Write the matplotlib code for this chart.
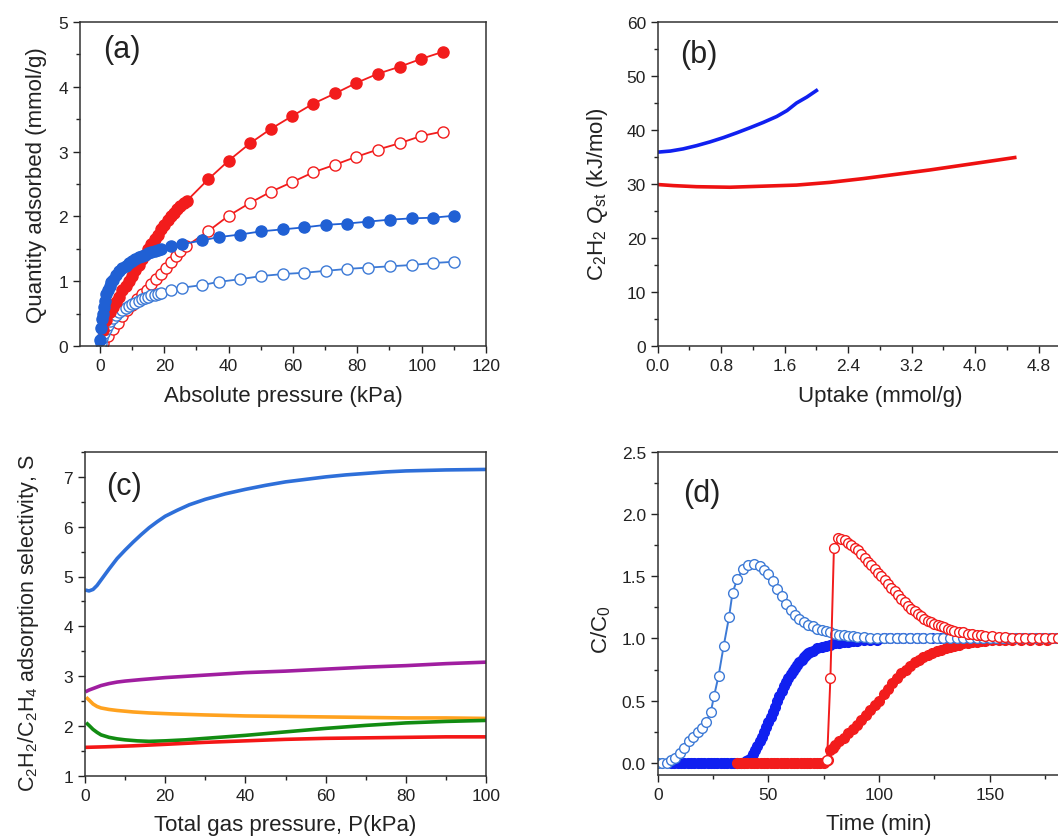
import numpy as np
import matplotlib
matplotlib.use("Agg")
import matplotlib.pyplot as plt
from matplotlib.ticker import MultipleLocator, FixedLocator

plt.rcParams['font.family'] = ['Liberation Sans', 'DejaVu Sans']
plt.rcParams['mathtext.fontset'] = 'custom'
plt.rcParams['mathtext.rm'] = 'Liberation Sans'
plt.rcParams['mathtext.it'] = 'Liberation Sans:italic'

# ---- (a) isotherms ----
a_red_fill_x = [1, 2, 3, 4, 5, 6, 7, 8, 9, 10, 11, 12, 13, 14, 15, 16, 17, 18, 19, 20,
                21, 22, 23, 24, 25, 26, 27, 33.6, 40, 46.7, 53.1, 59.8, 66.3, 73.2,
                79.7, 86.3, 93.2, 99.8, 106.6]
a_red_fill_y = [0.25, 0.40, 0.52, 0.60, 0.68, 0.76, 0.86, 0.93, 1.00, 1.08, 1.17, 1.25,
                1.34, 1.41, 1.49, 1.57, 1.65, 1.72, 1.80, 1.87, 1.94, 2.01, 2.06, 2.11,
                2.16, 2.21, 2.24, 2.57, 2.86, 3.13, 3.35, 3.55, 3.74, 3.90, 4.06, 4.20,
                4.31, 4.43, 4.54]
a_red_open_x = [1, 2.5, 4, 5.5, 7, 8.5, 10, 11.5, 13, 14.5, 16, 17.5, 19, 20.5, 22,
                23.5, 25, 26.8, 33.6, 40, 46.7, 53.1, 59.8, 66.3, 73.2, 79.7, 86.3,
                93.2, 99.8, 106.6]
a_red_open_y = [0.04, 0.15, 0.26, 0.36, 0.47, 0.55, 0.64, 0.72, 0.80, 0.87, 0.95,
                1.03, 1.11, 1.21, 1.30, 1.39, 1.47, 1.54, 1.77, 2.01, 2.21, 2.38, 2.53,
                2.68, 2.80, 2.92, 3.03, 3.13, 3.24, 3.31]
a_blue_fill_x = [0.1, 0.3, 0.5, 0.8, 1.2, 1.6, 2.0, 2.5, 3, 3.5, 4, 5, 6, 7, 8, 9, 10,
                 11, 12, 13, 14, 15, 16, 17, 18, 19, 22.2, 25.5, 31.8, 36.9, 43.5,
                 50.2, 56.8, 63.4, 70.3, 76.9, 83.4, 90.2, 97, 103.5, 110]
a_blue_fill_y = [0.10, 0.28, 0.42, 0.50, 0.60, 0.70, 0.80, 0.87, 0.93, 0.98, 1.02,
                 1.10, 1.15, 1.20, 1.24, 1.28, 1.31, 1.34, 1.37, 1.39, 1.41, 1.43,
                 1.45, 1.47, 1.48, 1.50, 1.54, 1.57, 1.63, 1.68, 1.72, 1.77, 1.80,
                 1.83, 1.87, 1.89, 1.92, 1.95, 1.97, 1.98, 2.01]
a_blue_open_x = [0.3, 0.7, 1.2, 1.8, 2.5, 3.2, 4, 5, 6, 7, 8, 9, 10, 11, 12, 13, 14,
                 15, 16, 17, 18, 19, 22.2, 25.5, 31.8, 36.9, 43.5, 50.2, 56.8, 63.4,
                 70.3, 76.9, 83.4, 90.2, 97, 103.5, 110]
a_blue_open_y = [0.05, 0.12, 0.20, 0.27, 0.33, 0.38, 0.43, 0.48, 0.52, 0.56, 0.59,
                 0.62, 0.65, 0.67, 0.70, 0.72, 0.74, 0.76, 0.78, 0.79, 0.81, 0.82,
                 0.87, 0.90, 0.94, 0.99, 1.03, 1.08, 1.11, 1.13, 1.16, 1.19, 1.21,
                 1.23, 1.25, 1.28, 1.30]

# ---- (b) Qst ----
b_blue_x = [0.0, 0.16, 0.32, 0.49, 0.66, 0.83, 1.0, 1.16, 1.33, 1.50, 1.63, 1.75, 1.88, 2.0]
b_blue_y = [35.9, 36.1, 36.5, 37.1, 37.8, 38.6, 39.5, 40.4, 41.4, 42.5, 43.6, 45.0, 46.1, 47.3]
b_red_x = [0.0, 0.2, 0.49, 0.91, 1.33, 1.75, 2.17, 2.59, 3.01, 3.43, 3.85, 4.27, 4.5]
b_red_y = [29.9, 29.7, 29.5, 29.4, 29.6, 29.8, 30.3, 31.0, 31.8, 32.6, 33.5, 34.4, 34.9]

# ---- (c) selectivity ----
c_blue_x = [0.5, 1, 2, 3, 4, 5, 6, 8, 10, 12, 14, 16, 18, 20, 23, 26, 30, 35, 40, 45,
            50, 55, 60, 65, 70, 75, 80, 90, 100]
c_blue_y = [4.72, 4.71, 4.74, 4.82, 4.93, 5.04, 5.15, 5.36, 5.53, 5.69, 5.84, 5.98,
            6.10, 6.21, 6.33, 6.44, 6.55, 6.66, 6.75, 6.83, 6.90, 6.95, 7.00, 7.04,
            7.07, 7.10, 7.12, 7.14, 7.15]
c_purple_x = [0.5, 1, 2, 4, 6, 8, 10, 14, 20, 30, 40, 50, 60, 70, 80, 90, 100]
c_purple_y = [2.70, 2.72, 2.75, 2.81, 2.85, 2.88, 2.90, 2.93, 2.97, 3.02, 3.07, 3.10,
              3.14, 3.18, 3.21, 3.25, 3.28]
c_orange_x = [0.6, 1, 2, 3, 4, 6, 8, 12, 16, 22, 30, 40, 50, 60, 70, 80, 90, 100]
c_orange_y = [2.55, 2.52, 2.44, 2.39, 2.36, 2.33, 2.31, 2.28, 2.26, 2.24, 2.22, 2.20,
              2.19, 2.18, 2.17, 2.16, 2.16, 2.15]
c_green_x = [0.6, 1, 2, 3, 4, 6, 8, 10, 13, 16, 20, 25, 30, 40, 50, 60, 70, 80, 90, 100]
c_green_y = [2.04, 2.01, 1.93, 1.87, 1.82, 1.77, 1.74, 1.72, 1.70, 1.69, 1.70, 1.72,
             1.75, 1.81, 1.88, 1.95, 2.01, 2.06, 2.09, 2.11]
c_red_x = [0.5, 5, 12, 20, 30, 40, 50, 60, 70, 80, 90, 100]
c_red_y = [1.57, 1.58, 1.60, 1.63, 1.67, 1.70, 1.73, 1.75, 1.76, 1.77, 1.78, 1.78]

# ---- (d) breakthrough ----
d_bo_t = [0, 2, 4, 6, 8, 10, 12, 14, 16, 18, 20, 22, 24, 25.5, 27.5, 29.8, 32.2, 33.8,
          36, 38.5, 41, 43.5, 46, 48, 50, 52, 54, 56, 58, 60, 62, 64, 66, 68, 70, 72,
          74, 76, 78, 80, 82, 84, 86, 88, 90, 93, 96, 99, 102, 105, 108, 111, 114, 117,
          120, 123, 126, 129, 132, 135, 138, 141, 144, 147, 150, 153, 156, 159, 162,
          165, 168, 171, 174, 177, 180]
d_bo_c = [0, 0, 0, 0.02, 0.04, 0.08, 0.12, 0.17, 0.21, 0.25, 0.28, 0.33, 0.41, 0.54,
          0.70, 0.94, 1.17, 1.37, 1.48, 1.56, 1.59, 1.60, 1.58, 1.55, 1.52, 1.46, 1.40,
          1.34, 1.28, 1.23, 1.19, 1.16, 1.13, 1.11, 1.10, 1.08, 1.07, 1.06, 1.05, 1.04,
          1.03, 1.03, 1.02, 1.02, 1.01, 1.01, 1.0, 1.0, 1.0, 1.0, 1.0, 1.0, 1.0, 1.0,
          1.0, 1.0, 1.0, 1.0, 1.0, 1.0, 1.0, 1.0, 1.0, 1.0, 1.0, 1.0, 1.0, 1.0, 1.0,
          1.0, 1.0, 1.0, 1.0, 1.0, 1.0]
d_bf_t = [6, 7.5, 9, 10.5, 12, 13.5, 15, 16.5, 18, 19.5, 21, 22.5, 24, 25.5, 27, 28.5,
          30, 31.5, 33, 34.5, 36, 37.5, 39, 40, 41, 42, 43, 44, 45, 46, 47, 48, 49, 50,
          51, 52, 53, 54, 55, 56, 57, 58, 59, 60, 61, 62, 63, 64, 65, 66, 67, 68, 69,
          70, 72, 74, 76, 78, 80, 82, 84, 86, 88, 90, 93, 96, 99, 102, 105, 108, 111,
          114, 117, 120, 124, 128, 132, 136, 140, 145, 150]
d_bf_c = [0, 0, 0, 0, 0, 0, 0, 0, 0, 0, 0, 0, 0, 0, 0, 0, 0, 0, 0, 0, 0, 0, 0, 0.01,
          0.02, 0.04, 0.07, 0.10, 0.13, 0.17, 0.21, 0.25, 0.29, 0.33, 0.37, 0.41, 0.45,
          0.50, 0.54, 0.58, 0.62, 0.65, 0.68, 0.71, 0.74, 0.76, 0.79, 0.81, 0.83, 0.85,
          0.87, 0.88, 0.89, 0.90, 0.92, 0.93, 0.94, 0.95, 0.96, 0.96, 0.97, 0.97, 0.98,
          0.98, 0.99, 0.99, 0.99, 1.0, 1.0, 1.0, 1.0, 1.0, 1.0, 1.0, 1.0, 1.0, 1.0,
          1.0, 1.0, 1.0, 1.0]
d_rf_t = [36, 37.5, 39, 40.5, 42, 43.5, 45, 46.5, 48, 49.5, 51, 52.5, 54, 55.5, 57,
          58.5, 60, 61.5, 63, 64.5, 66, 67.5, 69, 70.5, 72, 73.5, 75, 76, 77, 78, 79,
          80, 82, 84, 86, 88, 90, 92, 94, 96, 98, 100, 102, 104, 106, 108, 110, 112,
          114, 116, 118, 120, 122, 124, 126, 128, 130, 132, 134, 136, 138, 140, 142,
          144, 146, 148, 151, 154, 157, 160, 164, 168, 172, 176]
d_rf_c = [0, 0, 0, 0, 0, 0, 0, 0, 0, 0, 0, 0, 0, 0, 0, 0, 0, 0, 0, 0, 0, 0, 0, 0, 0,
          0, 0, 0.01, 0.02, 0.10, 0.12, 0.14, 0.17, 0.20, 0.24, 0.27, 0.30, 0.34, 0.38,
          0.42, 0.46, 0.50, 0.55, 0.59, 0.64, 0.68, 0.72, 0.75, 0.78, 0.81, 0.83, 0.85,
          0.87, 0.88, 0.90, 0.91, 0.92, 0.93, 0.94, 0.95, 0.96, 0.96, 0.97, 0.97,
          0.98, 0.98, 0.99, 0.99, 0.99, 0.99, 0.99, 0.99, 0.99, 0.99]
d_ro_t = [76.5, 78, 79.6, 81.5, 83, 84.5, 86, 87.5, 89, 90.5, 92, 93.5, 95, 96.5, 98,
          99.5, 101, 102.5, 104, 105.5, 107, 108.5, 110, 111.5, 113, 114.5, 116, 117.5,
          119, 120.5, 122, 123.5, 125, 126.5, 128, 129.5, 131, 132.5, 134, 136, 138,
          140, 142, 144, 146, 148, 151, 154, 157, 160, 163, 166, 169, 172, 175, 178,
          181]
d_ro_c = [0.02, 0.68, 1.73, 1.81, 1.80, 1.79, 1.77, 1.75, 1.73, 1.71, 1.68, 1.65,
          1.62, 1.59, 1.56, 1.53, 1.50, 1.47, 1.44, 1.41, 1.38, 1.35, 1.32, 1.29,
          1.26, 1.24, 1.22, 1.20, 1.18, 1.16, 1.14, 1.13, 1.12, 1.11, 1.10, 1.09,
          1.08, 1.07, 1.06, 1.05, 1.05, 1.04, 1.04, 1.03, 1.03, 1.02, 1.02, 1.01,
          1.01, 1.0, 1.0, 1.0, 1.0, 1.0, 1.0, 1.0, 1.0]

RED = '#f21c1c'
BLUE = '#2060d4'
BLUE_O = '#3d7ad6'
PURE_BLUE = '#1020f0'
TXT = '#222222'
LAB = 16
LET = 22

W, H = 1058, 837
fig = plt.figure(figsize=(W / 100, H / 100), dpi=100)


def box(l, t, r, b):
    return [l / W, 1 - b / H, (r - l) / W, (b - t) / H]


def style(ax):
    ax.tick_params(which='both', direction='out', top=False, right=False,
                   labelsize=12.5, colors=TXT, labelcolor=TXT, width=1)
    ax.tick_params(which='major', length=5)
    ax.tick_params(which='minor', length=3)
    for s in ax.spines.values():
        s.set_color('#333333')
        s.set_linewidth(1.1)


ax1 = fig.add_axes(box(80, 23, 486, 347))
ax2 = fig.add_axes(box(657.7, 23, 1102, 347))
ax3 = fig.add_axes(box(85, 453, 486, 776.7))
ax4 = fig.add_axes(box(657.7, 453.3, 1100.5, 776))

# (a)
ms = 8
ax1.plot(a_red_open_x, a_red_open_y, '-o', color=RED, lw=1.3, ms=ms, mfc='white', mec=RED, mew=1)
ax1.plot(a_blue_open_x, a_blue_open_y, '-o', color=BLUE_O, lw=1.3, ms=ms, mfc='white', mec=BLUE_O, mew=1)
ax1.plot(a_red_fill_x, a_red_fill_y, '-o', color=RED, lw=1.3, ms=ms)
ax1.plot(a_blue_fill_x, a_blue_fill_y, '-o', color=BLUE, lw=1.3, ms=ms)
ax1.set_xlim(-6.2, 120)
ax1.set_ylim(0, 5)
ax1.xaxis.set_major_locator(MultipleLocator(20))
ax1.xaxis.set_minor_locator(MultipleLocator(10))
ax1.yaxis.set_major_locator(MultipleLocator(1))
ax1.yaxis.set_minor_locator(MultipleLocator(0.5))
ax1.set_xlabel('Absolute pressure (kPa)', fontsize=LAB, color=TXT, labelpad=9)
ax1.set_ylabel('Quantity adsorbed (mmol/g)', fontsize=LAB, color=TXT, labelpad=8)
ax1.text(0.057, 0.917, '(a)', transform=ax1.transAxes, fontsize=LET, va='center', color=TXT)

# (b)
ax2.plot(b_blue_x, b_blue_y, '-', color=PURE_BLUE, lw=2.6)
ax2.plot(b_red_x, b_red_y, '-', color='#ee1111', lw=2.6)
ax2.set_xlim(0, 5.6)
ax2.set_ylim(0, 60)
ax2.xaxis.set_major_locator(FixedLocator([0, 0.8, 1.6, 2.4, 3.2, 4.0, 4.8]))
ax2.xaxis.set_minor_locator(MultipleLocator(0.4))
ax2.yaxis.set_major_locator(MultipleLocator(10))
ax2.yaxis.set_minor_locator(MultipleLocator(5))
ax2.xaxis.set_major_formatter(plt.FormatStrFormatter('%.1f'))
ax2.set_xlabel('Uptake (mmol/g)', fontsize=LAB, color=TXT, labelpad=9)
ax2.set_ylabel(r'C$_2$H$_2$ $Q_{\rm st}$ (kJ/mol)', fontsize=LAB, color=TXT)
ax2.yaxis.set_label_coords(-0.107, 0.47)
ax2.text(0.05, 0.90, '(b)', transform=ax2.transAxes, fontsize=LET, va='center', color=TXT)

# (c)
lw_c = 2.6
ax3.plot(c_blue_x, c_blue_y, '-', color='#2e6fd9', lw=lw_c)
ax3.plot(c_purple_x, c_purple_y, '-', color='#a01ea0', lw=lw_c)
ax3.plot(c_orange_x, c_orange_y, '-', color='#ffa21f', lw=lw_c)
ax3.plot(c_green_x, c_green_y, '-', color='#128c12', lw=lw_c)
ax3.plot(c_red_x, c_red_y, '-', color='#f41616', lw=lw_c)
ax3.set_xlim(0, 100)
ax3.set_ylim(1, 7.5)
ax3.xaxis.set_major_locator(MultipleLocator(20))
ax3.xaxis.set_minor_locator(MultipleLocator(10))
ax3.yaxis.set_major_locator(MultipleLocator(1))
ax3.yaxis.set_minor_locator(MultipleLocator(0.5))
ax3.set_xlabel('Total gas pressure, P(kPa)', fontsize=LAB, color=TXT, labelpad=8)
ax3.set_ylabel(r'C$_2$H$_2$/C$_2$H$_4$ adsorption selectivity, S', fontsize=15.5, color=TXT)
ax3.yaxis.set_label_coords(-0.11, 0.475)
ax3.text(0.052, 0.895, '(c)', transform=ax3.transAxes, fontsize=LET, va='center', color=TXT)

# (d)
md = 7
ax4.plot(d_bf_t, d_bf_c, '-o', color=PURE_BLUE, lw=1.2, ms=md)
ax4.plot(d_rf_t, d_rf_c, '-o', color=RED, lw=1.2, ms=md)
ax4.plot(d_bo_t, d_bo_c, '-o', color=BLUE_O, lw=1.4, ms=md, mfc='white', mec=BLUE_O, mew=1)
ax4.plot(d_ro_t, d_ro_c, '-o', color=RED, lw=1.4, ms=md, mfc='white', mec=RED, mew=1)
ax4.set_xlim(0, 200)
ax4.set_ylim(-0.1, 2.5)
ax4.xaxis.set_major_locator(FixedLocator([0, 50, 100, 150]))
ax4.xaxis.set_minor_locator(MultipleLocator(25))
ax4.yaxis.set_major_locator(MultipleLocator(0.5))
ax4.yaxis.set_minor_locator(MultipleLocator(0.25))
ax4.yaxis.set_major_formatter(plt.FormatStrFormatter('%.1f'))
ax4.set_xlabel('Time (min)', fontsize=LAB, color=TXT, labelpad=8)
ax4.set_ylabel(r'C/C$_0$', fontsize=LAB, color=TXT)
ax4.yaxis.set_label_coords(-0.101, 0.452)
ax4.text(0.057, 0.874, '(d)', transform=ax4.transAxes, fontsize=LET, va='center', color=TXT)

for ax in (ax1, ax2, ax3, ax4):
    style(ax)

fig.savefig('out.png', dpi=100)
